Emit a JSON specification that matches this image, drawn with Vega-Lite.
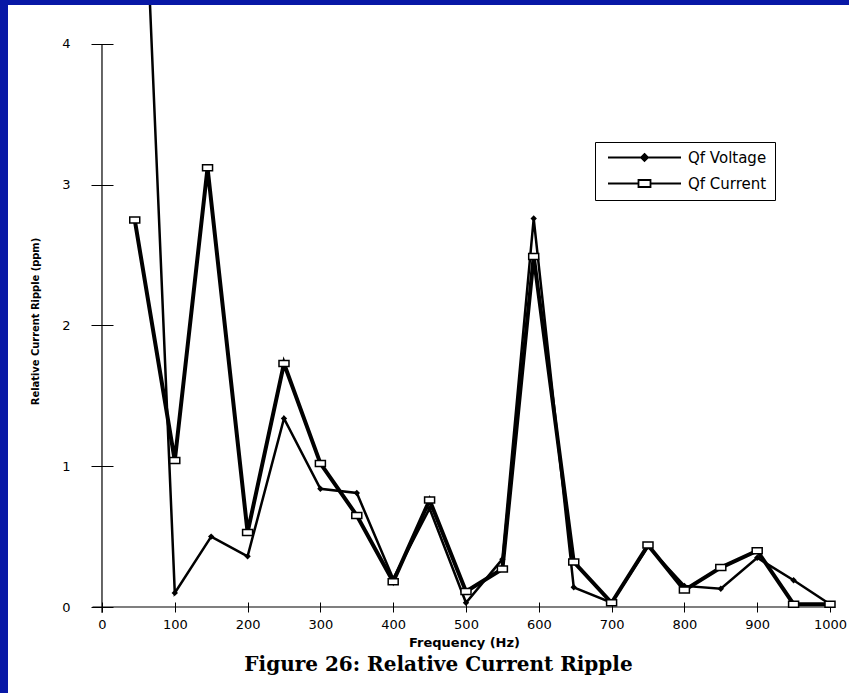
{
  "$schema": "https://vega.github.io/schema/vega-lite/v6.json",
  "width": 841,
  "height": 688,
  "autosize": {"type": "none"},
  "padding": {"left": 8, "top": 5, "right": 0, "bottom": 0},
  "background": "#0818a6",
  "config": {
    "view": {"fill": "white", "stroke": null},
    "axis": {"grid": false, "domain": false, "labelColor": "black", "tickColor": "black", "tickWidth": 1, "titleColor": "black", "labelFont": "DejaVu Sans", "labelFontSize": 13}
  },
  "title": {
    "text": "Figure 26: Relative Current Ripple",
    "orient": "bottom",
    "anchor": "middle",
    "offset": -38,
    "dx": 10,
    "font": "DejaVu Serif",
    "fontSize": 20,
    "fontWeight": "bold",
    "color": "black"
  },
  "data": {
    "values": [
      {"series": "Qf Voltage", "freq": 45, "value": 6.85},
      {"series": "Qf Voltage", "freq": 100, "value": 0.10},
      {"series": "Qf Voltage", "freq": 150, "value": 0.50},
      {"series": "Qf Voltage", "freq": 200, "value": 0.36},
      {"series": "Qf Voltage", "freq": 250, "value": 1.34},
      {"series": "Qf Voltage", "freq": 300, "value": 0.84},
      {"series": "Qf Voltage", "freq": 350, "value": 0.81},
      {"series": "Qf Voltage", "freq": 400, "value": 0.20},
      {"series": "Qf Voltage", "freq": 450, "value": 0.70},
      {"series": "Qf Voltage", "freq": 500, "value": 0.03},
      {"series": "Qf Voltage", "freq": 550, "value": 0.34},
      {"series": "Qf Voltage", "freq": 593, "value": 2.76},
      {"series": "Qf Voltage", "freq": 648, "value": 0.14},
      {"series": "Qf Voltage", "freq": 700, "value": 0.03},
      {"series": "Qf Voltage", "freq": 750, "value": 0.43},
      {"series": "Qf Voltage", "freq": 800, "value": 0.15},
      {"series": "Qf Voltage", "freq": 850, "value": 0.13},
      {"series": "Qf Voltage", "freq": 900, "value": 0.35},
      {"series": "Qf Voltage", "freq": 950, "value": 0.19},
      {"series": "Qf Voltage", "freq": 1000, "value": 0.02},
      {"series": "Qf Current", "freq": 45, "value": 2.75},
      {"series": "Qf Current", "freq": 100, "value": 1.04},
      {"series": "Qf Current", "freq": 145, "value": 3.12},
      {"series": "Qf Current", "freq": 200, "value": 0.53},
      {"series": "Qf Current", "freq": 250, "value": 1.73},
      {"series": "Qf Current", "freq": 300, "value": 1.02},
      {"series": "Qf Current", "freq": 350, "value": 0.65},
      {"series": "Qf Current", "freq": 400, "value": 0.18},
      {"series": "Qf Current", "freq": 450, "value": 0.76},
      {"series": "Qf Current", "freq": 500, "value": 0.11},
      {"series": "Qf Current", "freq": 550, "value": 0.27},
      {"series": "Qf Current", "freq": 593, "value": 2.49},
      {"series": "Qf Current", "freq": 648, "value": 0.32},
      {"series": "Qf Current", "freq": 700, "value": 0.03},
      {"series": "Qf Current", "freq": 750, "value": 0.44},
      {"series": "Qf Current", "freq": 800, "value": 0.12},
      {"series": "Qf Current", "freq": 850, "value": 0.28},
      {"series": "Qf Current", "freq": 900, "value": 0.40},
      {"series": "Qf Current", "freq": 950, "value": 0.02},
      {"series": "Qf Current", "freq": 1000, "value": 0.02}
    ]
  },
  "layer": [
    {
      "data": {"values": [{}]},
      "mark": {"type": "rule", "color": "black", "strokeWidth": 1.2},
      "encoding": {
        "x": {
          "datum": 0, "type": "quantitative",
          "scale": {"domain": [-129.1, 1026.1], "nice": false, "zero": false},
          "axis": {
            "values": [0, 100, 200, 300, 400, 500, 600, 700, 800, 900, 1000],
            "format": "d", "offset": -91, "tickSize": 10, "labelPadding": 6, "labelFlush": false,
            "title": "Frequency (Hz)", "titleFont": "DejaVu Sans", "titleFontSize": 13, "titleFontWeight": "bold",
            "titleX": 456, "titleY": 40, "titleBaseline": "middle", "titleAlign": "center", "titlePadding": 0
          }
        },
        "y": {
          "datum": -0.04, "type": "quantitative",
          "scale": {"domain": [-0.611, 4.277], "nice": false, "zero": false},
          "axis": {
            "values": [0, 1, 2, 3, 4], "format": "d", "offset": -105, "tickSize": 22, "labelPadding": 21, "labelFlush": false,
            "title": "Relative Current Ripple (ppm)", "titleFont": "Liberation Sans Narrow, DejaVu Sans Condensed, sans-serif",
            "titleFontSize": 11, "titleFontWeight": "bold", "titleAngle": -90,
            "titleX": -78, "titleY": 316, "titleBaseline": "middle", "titleAlign": "center"
          }
        },
        "y2": {"datum": 4}
      }
    },
    {
      "data": {"values": [{}]},
      "mark": {"type": "rule", "color": "black", "strokeWidth": 1.2},
      "encoding": {
        "x": {"datum": -13, "type": "quantitative", "scale": {"domain": [-129.1, 1026.1], "nice": false, "zero": false}},
        "x2": {"datum": 1000},
        "y": {"datum": 0, "type": "quantitative", "scale": {"domain": [-0.611, 4.277], "nice": false, "zero": false}}
      }
    },
    {
      "transform": [{"filter": {"field": "series", "equal": "Qf Current"}}],
      "mark": {"type": "line", "clip": true, "color": "black", "strokeWidth": 4},
      "encoding": {
        "x": {"field": "freq", "type": "quantitative", "scale": {"domain": [-129.1, 1026.1], "nice": false, "zero": false}},
        "y": {"field": "value", "type": "quantitative", "scale": {"domain": [-0.611, 4.277], "nice": false, "zero": false}}
      }
    },
    {
      "transform": [{"filter": {"field": "series", "equal": "Qf Voltage"}}],
      "mark": {"type": "line", "clip": true, "color": "black", "strokeWidth": 2.5},
      "encoding": {
        "x": {"field": "freq", "type": "quantitative", "scale": {"domain": [-129.1, 1026.1], "nice": false, "zero": false}},
        "y": {"field": "value", "type": "quantitative", "scale": {"domain": [-0.611, 4.277], "nice": false, "zero": false}}
      }
    },
    {
      "transform": [{"filter": {"field": "series", "equal": "Qf Voltage"}}],
      "mark": {"type": "point", "shape": "M0,-0.8L0.8,0L0,0.8L-0.8,0Z", "filled": true, "clip": true, "size": 64, "color": "black", "opacity": 1},
      "encoding": {
        "x": {"field": "freq", "type": "quantitative", "scale": {"domain": [-129.1, 1026.1], "nice": false, "zero": false}},
        "y": {"field": "value", "type": "quantitative", "scale": {"domain": [-0.611, 4.277], "nice": false, "zero": false}}
      }
    },
    {
      "transform": [{"filter": {"field": "series", "equal": "Qf Current"}}],
      "mark": {"type": "point", "shape": "M-1.25,-0.75H1.25V0.75H-1.25Z", "filled": false, "clip": true, "size": 64, "fill": "white", "fillOpacity": 1, "stroke": "black", "strokeWidth": 1.5, "opacity": 1},
      "encoding": {
        "x": {"field": "freq", "type": "quantitative", "scale": {"domain": [-129.1, 1026.1], "nice": false, "zero": false}},
        "y": {"field": "value", "type": "quantitative", "scale": {"domain": [-0.611, 4.277], "nice": false, "zero": false}}
      }
    },
    {
      "mark": {"type": "point", "filled": true, "clip": true, "size": 0, "opacity": 0, "stroke": "black", "strokeWidth": 1.8},
      "encoding": {
        "x": {"field": "freq", "type": "quantitative", "scale": {"domain": [-129.1, 1026.1], "nice": false, "zero": false}},
        "y": {"field": "value", "type": "quantitative", "scale": {"domain": [-0.611, 4.277], "nice": false, "zero": false}},
        "fill": {"field": "series", "type": "nominal", "scale": {"domain": ["Qf Voltage", "Qf Current"], "range": ["black", "white"]}, "legend": null},
        "shape": {
          "field": "series", "type": "nominal",
          "scale": {"domain": ["Qf Voltage", "Qf Current"], "range": ["M-7.3,0H7.3M0,-0.7L0.7,0L0,0.7L-0.7,0Z", "M-7.3,0H-1.2M1.2,0H7.3M-1.2,-0.7H1.2V0.7H-1.2Z"]},
          "legend": {
            "title": null, "orient": "none", "legendX": 587, "legendY": 137,
            "padding": 8, "strokeColor": "black", "fillColor": "white",
            "labelFont": "DejaVu Sans", "labelFontSize": 15, "labelColor": "black",
            "symbolSize": 100, "symbolOffset": 34, "labelOffset": 36, "rowPadding": 10,
            "symbolOpacity": 1, "symbolStrokeColor": "black", "symbolStrokeWidth": 1.8,
            "symbolFillColor": "black"
          }
        }
      }
    }
  ]
}
